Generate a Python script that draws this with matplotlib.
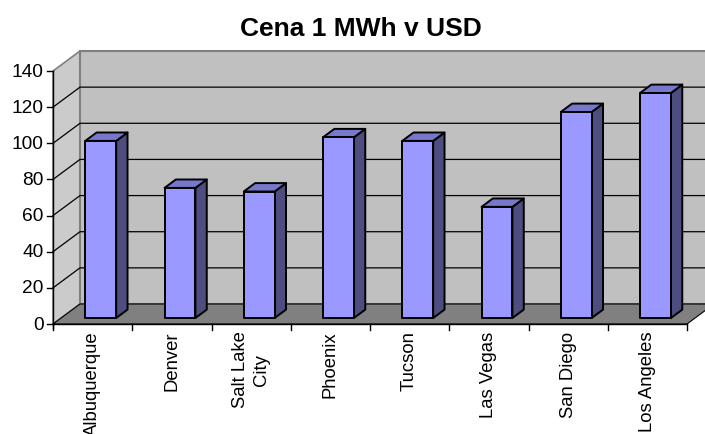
import matplotlib.pyplot as plt
from matplotlib.patches import Polygon

plt.rcParams['font.family'] = ['Liberation Sans', 'DejaVu Sans']

cities = ['Albuquerque', 'Denver', 'Salt Lake\nCity', 'Phoenix', 'Tucson',
          'Las Vegas', 'San Diego', 'Los Angeles']
prices = [98, 72, 70, 100, 98, 61.5, 114, 124.5]
yticks = [0, 20, 40, 60, 80, 100, 120, 140]
title = 'Cena 1 MWh v USD'

# pixel layout of the front plane
cat_px = 79.25
unit_px = 253 / 140
DX = 27 / cat_px        # depth offset in category units
DY = 20 / unit_px       # depth offset in value units
n = len(cities)
ymax = 140

fig = plt.figure(figsize=(7.05, 4.35), dpi=100)
ax = fig.add_axes([0, 0, 1, 1])
ax.set_xlim(-53 / cat_px, (705 - 53) / cat_px)
ax.set_ylim((325 - 435) / unit_px, 325 / unit_px)
ax.axis('off')

# walls and floor
ax.add_patch(Polygon([(0, 0), (0, ymax), (DX, ymax + DY), (DX, DY)],
                     fc='#cbcbcb', ec='#808080', lw=1.2, zorder=1))
ax.add_patch(Polygon([(DX, DY), (DX, ymax + DY), (n + DX, ymax + DY), (n + DX, DY)],
                     fc='#c0c0c0', ec='#808080', lw=1.5, zorder=1))
ax.add_patch(Polygon([(0, 0), (n, 0), (n + DX, DY), (DX, DY)],
                     fc='#808080', ec='black', lw=0.8, zorder=2))

# gridlines
for v in yticks[1:-1]:
    ax.plot([0, DX, n + DX], [v, v + DY, v + DY], color='black', lw=0.9, zorder=3)

# axes lines and ticks
ax.plot([0, 0], [-2.2, ymax], color='black', lw=1.0, zorder=4)
ax.plot([0, n], [0, 0], color='black', lw=1.0, zorder=4)
for v in yticks:
    ax.plot([-0.076, 0], [v, v], color='black', lw=1.0, zorder=4)
    ax.text(-0.12, v, str(v), ha='right', va='center', fontsize=13.8)
for i in range(n + 1):
    ax.plot([i, i], [0, -3.3], color='black', lw=1.0, zorder=4)

# bars
hw = 0.195
d0, d1 = 0.3, 0.72
for i, v in enumerate(prices):
    c = i + 0.5
    xl = c - hw + d0 * DX
    xr = c + hw + d0 * DX
    y0 = d0 * DY
    bx = (d1 - d0) * DX
    by = (d1 - d0) * DY
    front = [(xl, y0), (xr, y0), (xr, y0 + v), (xl, y0 + v)]
    side = [(xr, y0), (xr + bx, y0 + by), (xr + bx, y0 + by + v), (xr, y0 + v)]
    top = [(xl, y0 + v), (xr, y0 + v), (xr + bx, y0 + by + v), (xl + bx, y0 + by + v)]
    ax.add_patch(Polygon(side, fc='#4d4d80', ec='black', lw=1.4, joinstyle='round', zorder=5))
    ax.add_patch(Polygon(top, fc='#7777cc', ec='black', lw=1.4, joinstyle='round', zorder=5))
    ax.add_patch(Polygon(front, fc='#9999ff', ec='black', lw=1.4, joinstyle='round', zorder=6))
    ax.text(c, -3.6, cities[i], rotation=90, ha='center', va='top',
            multialignment='center', fontsize=13.3, linespacing=1.3)

fig.text(360.7 / 705, 1 - 28.8 / 435, title, ha='center', va='center',
         fontsize=19, fontweight='bold')

fig.savefig('out.png', dpi=100)
